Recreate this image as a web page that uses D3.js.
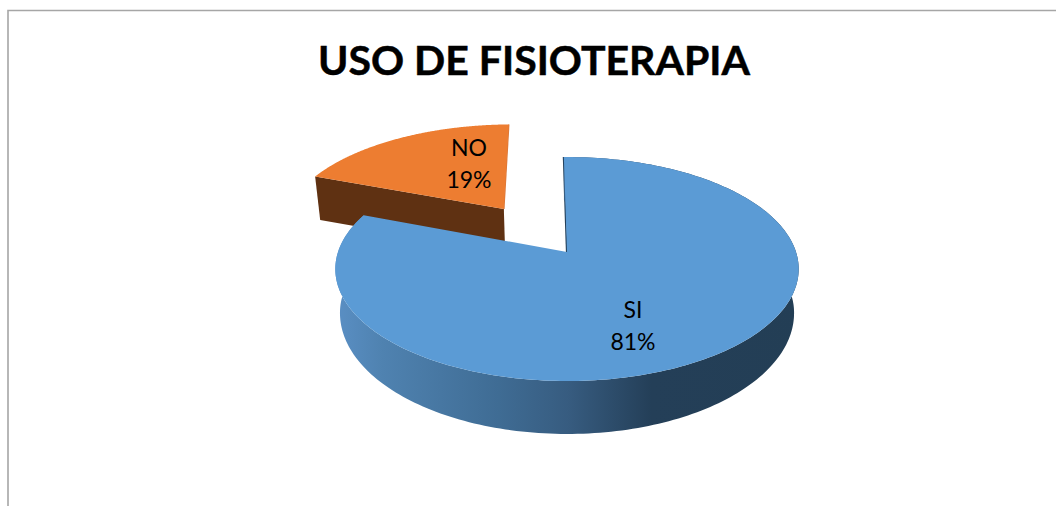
<!DOCTYPE html>
<html><head><meta charset="utf-8">
<style>html,body{margin:0;padding:0;background:#fff;overflow:hidden}svg{display:block}text{font-family:Lato,"Open Sans",sans-serif;fill:#000}</style>
<script src="https://cdn.jsdelivr.net/npm/d3@7/dist/d3.min.js"></script>
</head><body>
<svg id="c" width="1056" height="506"></svg>
<script>
const categories = ["SI","NO"];
const seriesValues = [81,19];
const titleText = "USO DE FISIOTERAPIA";

// layout / style, separate from the data
const W=1056,H=506;
const topColors={SI:"#5B9BD5",NO:"#ED7D31"};
const cutColors={SI:"#24405A",NO:"#5F3112"};
const labelPos={SI:[633,310],NO:[469,148]};
const explode={SI:0,NO:0.51};
const cx=567,cy=252,R=229,persp=-0.152,ka=71.1;
const sc=0.98, sx=568;

// perspective mapping of the pie's plane to the screen
const project=(u,v)=>{const d=1+persp*v;return [cx+R*u/d,(ka*v+cy)/d];};
const sink=([x,y])=>[sx+(x-sx)*sc, y+Math.max(43.5,44+(y-269)*0.08)];

const svg=d3.select("#c");
const grad=svg.append("defs").append("linearGradient").attr("id","rim")
  .attr("gradientUnits","userSpaceOnUse").attr("x1",336).attr("x2",800).attr("y1",0).attr("y2",0);
[[0,"#5A8FC4"],[0.1,"#4F82B0"],[0.35,"#3F6C94"],[0.5,"#375C80"],[0.68,"#243F58"],[1,"#233E55"]]
  .forEach(([o,c])=>grad.append("stop").attr("offset",o).attr("stop-color",c));

// frame
svg.append("path").attr("d",`M8 ${H}V10.5H${W}`).attr("fill","none").attr("stroke","#a6a6a6").attr("stroke-width",1.6);

const startA=-0.9*Math.PI/180;
const arcs=d3.pie().sort(null).startAngle(startA).endAngle(startA+2*Math.PI)
  .value((d,i)=>seriesValues[i])(categories);

const line=d3.line();
const draw=(pts,fill)=>svg.append("path").attr("d",line(pts)+"Z").attr("fill",fill);

arcs.slice().reverse().forEach(a=>{
  const name=a.data, mid=(a.startAngle+a.endAngle)/2, e=explode[name];
  const ox=e*Math.sin(mid), oy=-e*Math.cos(mid);
  const pt=t=>project(ox+Math.sin(t),oy-Math.cos(t));
  const angles=d3.range(0,241).map(i=>a.startAngle+(a.endAngle-a.startAngle)*i/240);
  const rim=angles.map(pt);
  const apex=project(ox,oy);
  const rimB=rim.map(sink);
  const first=rim[0], last=rim[rim.length-1];
  if(name==="NO"){
    // near cut face; the outer wall of this slice faces away from the viewer
    draw([first,apex,sink(apex),sink(first)],cutColors.NO);
    svg.append("path").attr("d",line([last,apex])).attr("stroke","#D9773A").attr("stroke-width",1.4).attr("fill","none");
  } else {
    svg.append("path").attr("d",line([[first[0]-0.3,first[1]],[apex[0]-0.3,apex[1]]]))
      .attr("stroke",cutColors.SI).attr("stroke-width",1.6).attr("fill","none");
    draw(rim.concat(rimB.slice().reverse()),"url(#rim)");
  }
  draw([apex].concat(rim),topColors[name]);
});

// labels
arcs.forEach((a,i)=>{
  const [x,y]=labelPos[a.data];
  const t=svg.append("text").attr("text-anchor","middle").attr("font-size",23);
  t.append("tspan").attr("x",x).attr("y",y+8).text(a.data);
  t.append("tspan").attr("x",x).attr("y",y+40).text(seriesValues[i]+"%");
});

svg.append("text").attr("x",534).attr("y",75).attr("text-anchor","middle")
  .attr("font-size",41).attr("font-weight",700).attr("stroke","#000").attr("stroke-width",0.5).text(titleText);
</script>
</body></html>
